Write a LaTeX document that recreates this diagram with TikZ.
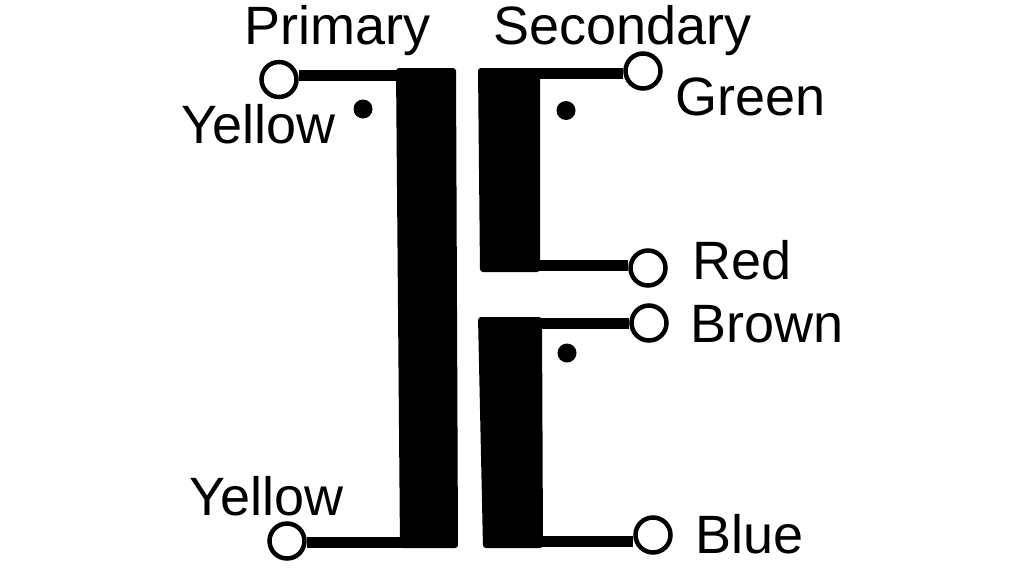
\documentclass[tikz,border=0pt]{standalone}
\usepackage{fontspec}
\setmainfont{Liberation Sans}
\begin{document}
\begin{tikzpicture}[x=1pt,y=-1pt,
	terminal/.style={circle,draw,line width=4.5pt,fill=white,minimum size=35pt,inner sep=0pt},
	lead/.style={line width=11pt},
	phase/.style={circle,fill=black,minimum size=19pt,inner sep=0pt},
	label/.style={font=\fontsize{54}{54}\selectfont,inner sep=0pt,anchor=base west}]
	\useasboundingbox (0,0) rectangle (1020,570);

	% Core windings
	\fill[rounded corners=3pt] (396,68) -- (456,68) -- (458,548) -- (400,548) -- cycle;
	\fill[rounded corners=3pt] (478,68) -- (540,68) -- (540,272) -- (480,272) -- cycle;
	\fill[rounded corners=3pt] (478,317) -- (542,317) -- (543,548) -- (483,548) -- cycle;

	% Lead ends on the core
	\coordinate (pritopend) at (420,75);
	\coordinate (pribotend) at (420,542);
	\coordinate (greenend) at (520,73.5);
	\coordinate (redend) at (520,265);
	\coordinate (brownend) at (520,323);
	\coordinate (blueend) at (520,541);

	% Terminals
	\node[terminal] (pritop) at (279,79.5) {};
	\node[terminal] (pribot) at (287,541) {};
	\node[terminal] (green) at (643,71) {};
	\node[terminal] (red) at (648,268) {};
	\node[terminal] (brown) at (649,323) {};
	\node[terminal] (blue) at (653,535) {};

	% Leads
	\draw[lead] (pritopend) -- (pritopend -| pritop.east);
	\draw[lead] (pribotend) -- (pribotend -| pribot.east);
	\draw[lead] (greenend) -- (greenend -| green.west);
	\draw[lead] (redend) -- (redend -| red.west);
	\draw[lead] (brownend) -- (brownend -| brown.west);
	\draw[lead] (blueend) -- (blueend -| blue.west);

	% Phase dots
	\node[phase] (dotpri) at (363,109) {};
	\node[phase] (dotgreen) at (566,110.5) {};
	\node[phase] (dotbrown) at (567,353) {};

	% Labels
	\node[label] (primary) at (244,44) {Primary};
	\node[label] (secondary) at (493,44) {Secondary};
	\node[label] (yellowtop) at (181,143) {Yellow};
	\node[label] (yellowbot) at (189,515) {Yellow};
	\node[label] (greentxt) at (675,115) {Green};
	\node[label] (redtxt) at (692,279) {Red};
	\node[label] (browntxt) at (690,342) {Brown};
	\node[label] (bluetxt) at (695,553) {Blue};
\end{tikzpicture}
\end{document}
